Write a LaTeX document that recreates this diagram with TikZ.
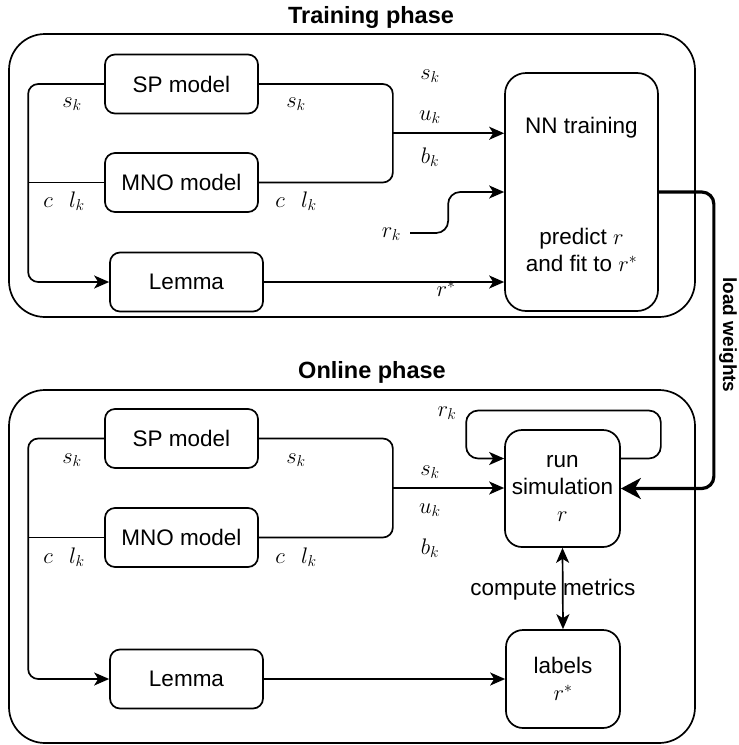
\RequirePackage{fix-cm}
\documentclass[tikz,border=0pt]{standalone}
\usepackage{fontspec}
\setmainfont{Liberation Sans}
\usetikzlibrary{arrows.meta,calc}

\begin{document}
\begin{tikzpicture}[x=1pt,y=-1pt,
  txt/.style={font=\fontsize{22.5}{27}\selectfont},
  every node/.style={txt},
  ln/.style={line width=1.7pt},
  arr/.style={ln,-{Stealth[length=15pt,width=13pt,inset=4pt]}},
  darr/.style={ln,{Stealth[length=15pt,width=13pt,inset=4pt]}-{Stealth[length=15pt,width=13pt,inset=4pt]}},
  thickarr/.style={line width=3.2pt,-{Stealth[length=20pt,width=21pt,inset=6pt]}},
  box/.style={draw,ln,rounded corners=10pt,minimum width=153pt,minimum height=59pt,inner sep=0pt},
  bigbox/.style={draw,ln,rounded corners=18pt,inner sep=0pt,align=center},
  phase/.style={draw,ln,rounded corners=36pt},
  title/.style={font=\bfseries\fontsize{23.5}{28}\selectfont},
  sidetitle/.style={font=\bfseries\fontsize{19}{23}\selectfont},
  lbl/.style={inner sep=1pt}
]
\useasboundingbox (0,0) rectangle (739,745);

% ---------------- training phase ----------------
\node[title] (t1) at (371,17) {Training phase};
\draw[phase] (9,34) rectangle (695,317);

\node[box] (sp1)  at (181.5,84)  {SP model};
\node[box] (mno1) at (181.5,182.5) {MNO model};
\node[box] (lem1) at (186.5,282) {Lemma};
\node[bigbox,rounded corners=21pt,minimum width=153pt,minimum height=238pt] (nn) at (581.5,192) {};
\node (nnt) at (581.5,128) {NN training};
\node[align=center] (nnf) at (581.5,250) {predict $r$\\and fit to $r^*$};

% left bus feeding the lemma
\draw[arr,rounded corners=10pt] (sp1.west) -- ++(-76,0) |- (lem1.west);
\draw[ln] (mno1.west) -- ++(-76,0);
% right bus feeding the network
\draw[ln,rounded corners=10pt] (sp1.east) -- ++(134,0) |- (mno1.east);
\coordinate (j1) at ($(sp1.east)!0.5!(mno1.east)+(134,0)$);
\draw[arr] (j1) -- (j1 -| nn.west);
% lemma output
\draw[arr] (lem1.east) -- (lem1.east -| nn.west);
% r_k input
\node[lbl,anchor=east] (rk1) at (402,234) {$r_k$};
\coordinate (rkb) at ($(nn.west)+(-56,0)$);
\draw[arr,rounded corners=12pt] ([xshift=8pt,yshift=1pt]rk1.east) -| (rkb) -- (nn.west);

\node[lbl] (a1) at (72,104)  {$s_k$};
\node[lbl] (a2) at (64,201)  {$c\;\;\,l_k$};
\node[lbl] (a3) at (296,104) {$s_k$};
\node[lbl] (a4) at (296,201) {$c\;\;\,l_k$};
\node[lbl] (a5) at (430,76)  {$s_k$};
\node[lbl] (a6) at (430,117) {$u_k$};
\node[lbl] (a7) at (430,157) {$b_k$};
\node[lbl] (a8) at (446,289) {$r^*$};

% ---------------- online phase ----------------
\node[title] (t2) at (372,372) {Online phase};
\draw[phase] (9,390) rectangle (695,743);

\node[box] (sp2)  at (181.5,438.5) {SP model};
\node[box] (mno2) at (181.5,537.5) {MNO model};
\node[box] (lem2) at (186.5,679)   {Lemma};
\node[bigbox,rounded corners=17pt,minimum width=115pt,minimum height=117pt] (sim) at (562.5,488.5) {run\\simulation\\$r$};
\node[bigbox,rounded corners=17pt,minimum width=114pt,minimum height=98pt] (lab) at (563,679) {labels\\$r^*$};

\draw[arr,rounded corners=10pt] (sp2.west) -- ++(-76,0) |- (lem2.west);
\draw[ln] (mno2.west) -- ++(-76,0);
\draw[ln,rounded corners=10pt] (sp2.east) -- ++(134,0) |- (mno2.east);
\coordinate (j2) at ($(sp2.east)!0.5!(mno2.east)+(134,0)$);
\draw[arr] (j2) -- (j2 -| sim.west);
\draw[arr] (lem2.east) -- (lem2.east -| lab.west);

% feedback loop of the simulation
\coordinate (lpl) at ($([yshift=30pt]sim.west)+(-38,0)$);
\draw[arr,rounded corners=12pt] ([yshift=30pt]sim.east) -- ++(40,0) -- ++(0,-48) -| (lpl) -- ([yshift=30pt]sim.west);
\node[lbl] (b0) at (447,413) {$r_k$};

% metrics between simulation and labels
\draw[darr] (sim.south) -- (lab.north);
\node (cm) at (553,590) {compute metrics};

\node[lbl] (b1) at (72,460)  {$s_k$};
\node[lbl] (b2) at (64,557)  {$c\;\;\,l_k$};
\node[lbl] (b3) at (296,460) {$s_k$};
\node[lbl] (b4) at (296,557) {$c\;\;\,l_k$};
\node[lbl] (b5) at (430,472) {$s_k$};
\node[lbl] (b6) at (430,510) {$u_k$};
\node[lbl] (b7) at (430,548) {$b_k$};

% ---------------- transfer of weights ----------------
\draw[thickarr,rounded corners=12pt] (nn.east) -- ++(55,0) |- (sim.east);
\node[sidetitle,rotate=-90] (lw) at (728,335) {load weights};
\end{tikzpicture}
\end{document}
